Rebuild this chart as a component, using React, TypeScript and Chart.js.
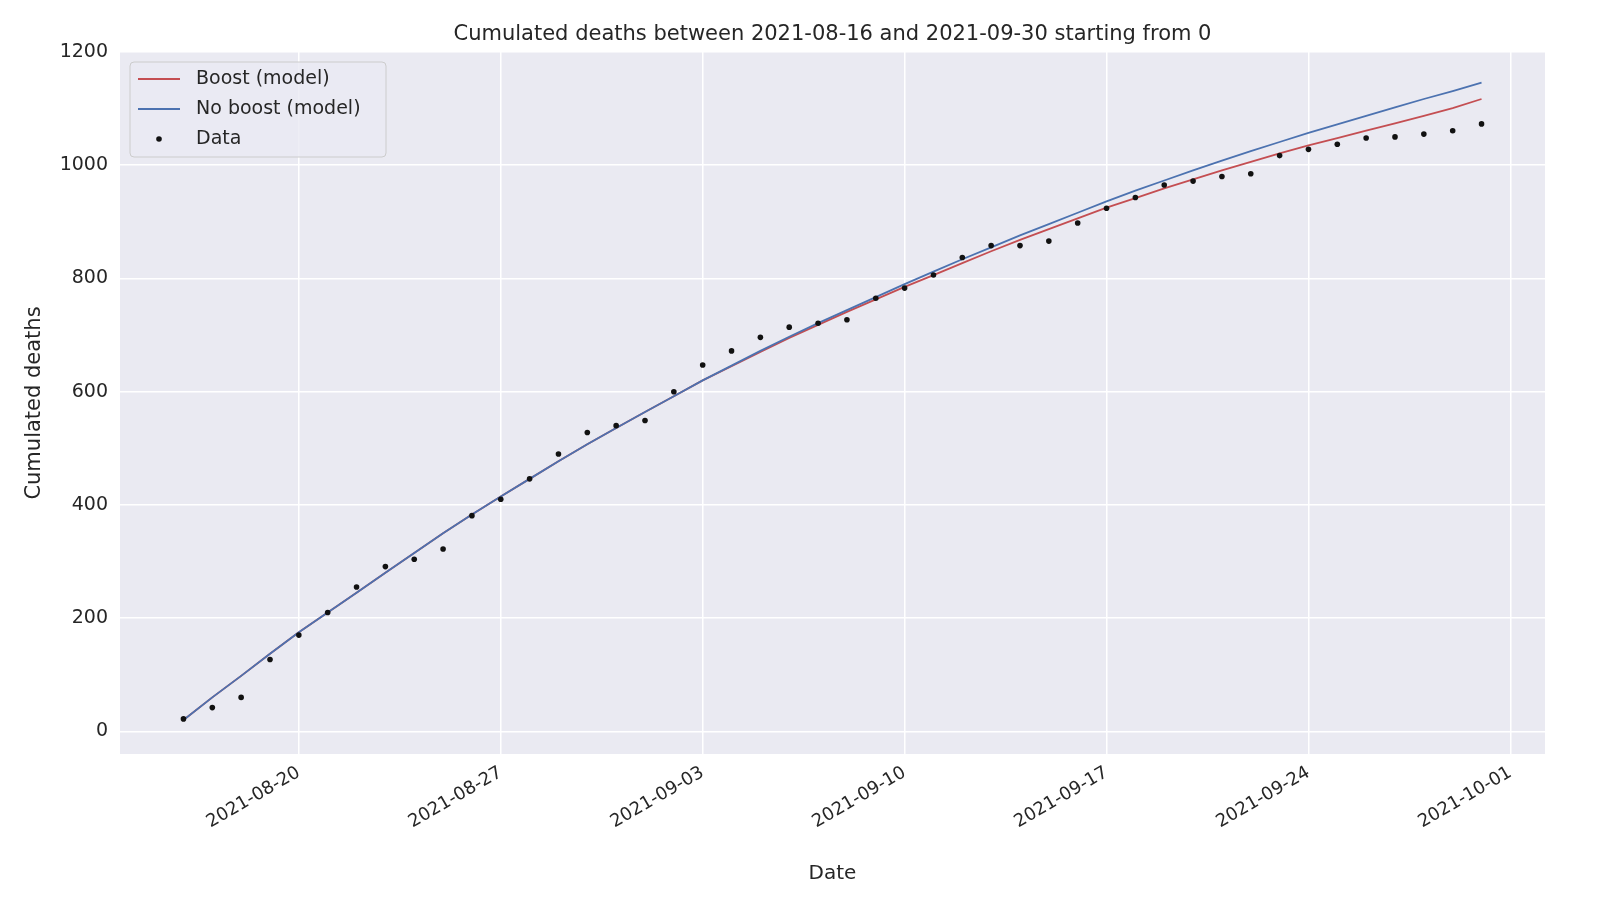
import { useEffect, useRef } from "react";
import { Chart, registerables } from "chart.js";

Chart.register(...registerables);

// day index 0 = 2021-08-16
const tickDays = [4, 11, 18, 25, 32, 39, 46];
const tickLabels = ["2021-08-20", "2021-08-27", "2021-09-03", "2021-09-10", "2021-09-17", "2021-09-24", "2021-10-01"];

const dataValues = [22, 42, 60, 127, 170, 210, 255, 291, 304, 322, 381, 410, 446, 490, 528, 540, 549, 600, 647, 672, 696, 714, 721, 727, 765, 783, 806, 837, 858, 858, 866, 898, 924, 943, 965, 972, 980, 985, 1017, 1028, 1037, 1048, 1050, 1055, 1061, 1073];
const boostValues = [20, 60, 98, 137, 175, 210, 245, 280, 315, 350, 383, 415, 446, 477, 507, 536, 564, 592, 620, 645, 670, 695, 718, 741, 763, 785, 806, 827, 848, 868, 887, 906, 925, 942, 959, 975, 991, 1006, 1021, 1035, 1048, 1061, 1074, 1087, 1101, 1117];
const noBoostValues = [20, 60, 98, 137, 175, 210, 245, 280, 315, 350, 383, 415, 446, 477, 507, 536, 564, 592, 620, 646, 672, 697, 721, 744, 767, 790, 812, 834, 855, 876, 896, 916, 936, 955, 973, 991, 1008, 1025, 1041, 1057, 1072, 1087, 1102, 1117, 1131, 1146];

const FONT = "'DejaVu Sans', sans-serif";
const TXT = "#262626";

const bgPlugin = {
  id: "bg",
  beforeDraw(chart: any) {
    const { ctx, chartArea: a } = chart;
    ctx.save();
    ctx.fillStyle = "#EAEAF2";
    ctx.fillRect(a.left, a.top, a.right - a.left, a.bottom - a.top);
    ctx.restore();
  },
  afterDraw(chart: any) {
    const { ctx, chartArea: a } = chart;
    ctx.save();
    // title
    ctx.fillStyle = TXT;
    ctx.font = `21px ${FONT}`;
    ctx.textAlign = "center";
    ctx.textBaseline = "middle";
    ctx.fillText("Cumulated deaths between 2021-08-16 and 2021-09-30 starting from 0", (a.left + a.right) / 2, 35);
    // legend
    const x0 = a.left + 10, y0 = a.top + 10;
    ctx.fillStyle = "rgba(234,234,242,0.8)";
    ctx.strokeStyle = "#cccccc";
    ctx.lineWidth = 1;
    ctx.beginPath();
    ctx.roundRect(x0, y0, 256, 95, 4);
    ctx.fill();
    ctx.stroke();
    const items = [
      { label: "Boost (model)", color: "#C44E52", type: "line" },
      { label: "No boost (model)", color: "#4C72B0", type: "line" },
      { label: "Data", color: "#111111", type: "dot" },
    ];
    ctx.font = `19px ${FONT}`;
    ctx.textAlign = "left";
    items.forEach((it, i) => {
      const cy = y0 + 17 + i * 30;
      if (it.type === "line") {
        ctx.strokeStyle = it.color;
        ctx.lineWidth = 1.8;
        ctx.beginPath();
        ctx.moveTo(x0 + 8, cy);
        ctx.lineTo(x0 + 50, cy);
        ctx.stroke();
      } else {
        ctx.fillStyle = it.color;
        ctx.beginPath();
        ctx.arc(x0 + 29, cy, 2.8, 0, Math.PI * 2);
        ctx.fill();
      }
      ctx.fillStyle = TXT;
      ctx.fillText(it.label, x0 + 66, cy);
    });
    ctx.restore();
  },
};

export default function App() {
  const ref = useRef<HTMLCanvasElement>(null);

  useEffect(() => {
    if (!ref.current) return;
    const toPts = (arr: number[]) => arr.map((y, i) => ({ x: i, y }));
    const chart = new Chart(ref.current, {
      type: "scatter",
      data: {
        datasets: [
          { label: "Boost (model)", data: toPts(boostValues), showLine: true, borderColor: "#C44E52", borderWidth: 1.8, pointRadius: 0, order: 2 },
          { label: "No boost (model)", data: toPts(noBoostValues), showLine: true, borderColor: "#4C72B0", borderWidth: 1.8, pointRadius: 0, order: 1 },
          { label: "Data", data: toPts(dataValues), backgroundColor: "#111111", borderWidth: 0, pointRadius: 2.8, order: 0 },
        ],
      },
      plugins: [bgPlugin],
      options: {
        animation: false,
        responsive: true,
        maintainAspectRatio: false,
        layout: { padding: { top: 52, right: 55, left: 0, bottom: 0 } },
        plugins: { legend: { display: false }, title: { display: false }, tooltip: { enabled: false } },
        scales: {
          x: {
            type: "linear",
            min: -2.2,
            max: 47.2,
            border: { display: false },
            grid: { color: "#ffffff", lineWidth: 1.5, drawTicks: false },
            afterBuildTicks: (s: any) => {
              s.ticks = tickDays.map((v) => ({ value: v }));
            },
            afterFit: (s: any) => {
              s.height = 146;
            },
            ticks: {
              minRotation: 30,
              maxRotation: 30,
              color: TXT,
              padding: 8,
              font: { family: FONT, size: 18 },
              callback: (v: any) => tickLabels[tickDays.indexOf(Number(v))] ?? "",
            },
            title: { display: true, text: "Date", color: TXT, font: { family: FONT, size: 20 }, padding: { top: 0, bottom: 14 } },
          },
          y: {
            min: -40,
            max: 1200,
            border: { display: false },
            grid: { color: "#ffffff", lineWidth: 1.5, drawTicks: false },
            afterBuildTicks: (s: any) => {
              s.ticks = [0, 200, 400, 600, 800, 1000, 1200].map((v) => ({ value: v }));
            },
            afterFit: (s: any) => {
              s.width = 120;
            },
            ticks: { color: TXT, padding: 12, font: { family: FONT, size: 19 }, callback: (v: any) => String(v) },
            title: { display: true, text: "Cumulated deaths", color: TXT, font: { family: FONT, size: 21 }, padding: { top: 22, bottom: 0 } },
          },
        },
      },
    });
    return () => chart.destroy();
  }, []);

  return (
    <div style={{ position: "absolute", left: 0, top: 0, width: 1600, height: 900, background: "#fff" }}>
      <canvas ref={ref}></canvas>
    </div>
  );
}
